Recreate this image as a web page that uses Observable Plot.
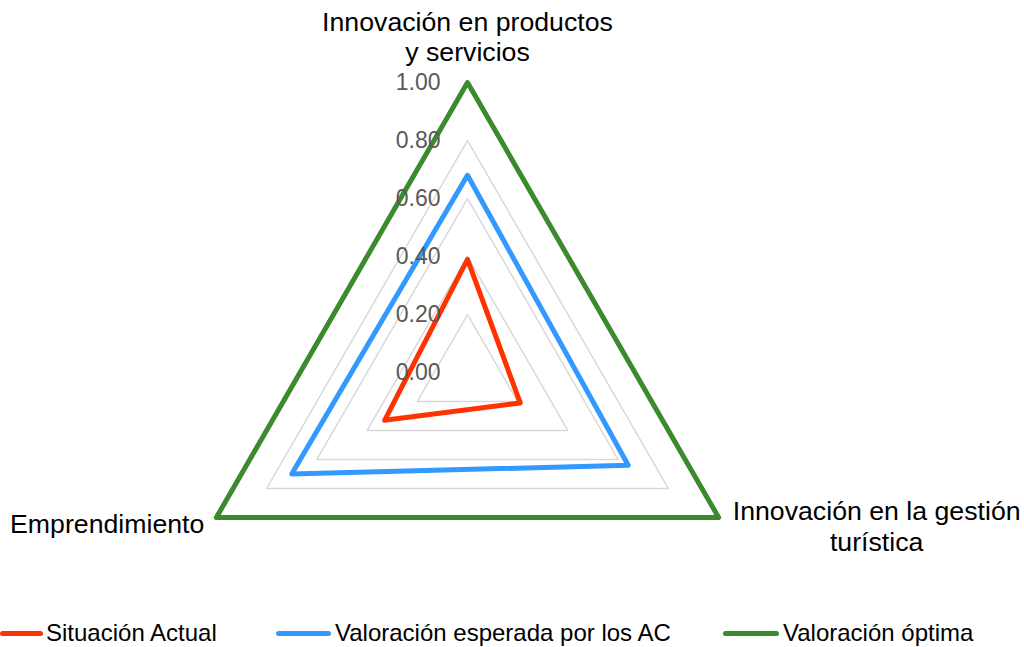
<!DOCTYPE html>
<html>
<head>
<meta charset="utf-8">
<script src="https://cdn.jsdelivr.net/npm/d3@7"></script>
<script src="https://cdn.jsdelivr.net/npm/@observablehq/plot@0.6"></script>
<style>
  html, body { margin: 0; padding: 0; background: #fff; }
  body { width: 1024px; height: 647px; overflow: hidden; font-family: "Liberation Sans", Arial, sans-serif; }
  #legend { position: relative; width: 1024px; height: 32px; }
  .sw { position: absolute; height: 5px; border-radius: 3px; }
  .lt { position: absolute; font-size: 24px; color: #000; line-height: 28px; white-space: nowrap; }
</style>
</head>
<body>
<div id="chart"></div>
<div id="legend"></div>
<script>
// ---- data ----
const axes = ["Innovación en productos\ny servicios", "Innovación en la gestión\nturística", "Emprendimiento"];
const seriesNames = ["Situación Actual", "Valoración esperada por los AC", "Valoración óptima"];
const situacionActual = [0.39, 0.21, 0.33];
const valoracionEsperada = [0.68, 0.64, 0.70];
const valoracionOptima = [1.0, 1.0, 1.0];
const gridLevels = [0.2, 0.4, 0.6, 0.8, 1.0];
const tickValues = [0, 0.2, 0.4, 0.6, 0.8, 1.0];
const tickLabels = ["0.00", "0.20", "0.40", "0.60", "0.80", "1.00"];
const colors = ["#FF3300", "#3399FF", "#3C8A2E"];

// ---- geometry helpers (polar -> data coords) ----
const angles = [90, -30, 210].map(d => d * Math.PI / 180);
const px = d => d.r * Math.cos(angles[d.i]);
const py = d => d.r * Math.sin(angles[d.i]);

const seriesValues = [situacionActual, valoracionEsperada, valoracionOptima];
const seriesRows = seriesValues.flatMap((vals, s) => vals.map((r, i) => ({s, i, r})));
const gridRows = gridLevels.flatMap(l => axes.map((a, i) => ({l, i, r: l})));
const tickRows = tickValues.map((v, k) => ({i: 0, r: v, label: tickLabels[k]}));
const axisRows = axes.map((label, i) => ({i, r: 1, label}));

const chart = Plot.plot({
  width: 1024,
  height: 615,
  style: {fontFamily: '"Liberation Sans", Arial, sans-serif', background: "#fff"},
  x: {domain: [-1, 1], range: [177, 757], axis: null},
  y: {domain: [-1, 1], range: [662, 82], axis: null},
  marks: [
    Plot.line(gridRows, {x: px, y: py, z: "l", curve: "linear-closed", stroke: "#d9d9d9", strokeWidth: 1.5}),
    Plot.line(seriesRows, {x: px, y: py, z: "s", curve: "linear-closed", stroke: d => colors[d.s], strokeWidth: 5, strokeLinejoin: "round"}),
    Plot.text(tickRows, {x: px, y: py, text: "label", textAnchor: "end", dx: -27, fontSize: 23, fill: "#595959"}),
    Plot.text(axisRows.filter(d => d.i === 0), {x: px, y: py, text: "label", textAnchor: "middle", lineAnchor: "middle", dy: -46, fontSize: 26.7, lineHeight: 1.13, fill: "#000"}),
    Plot.text(axisRows.filter(d => d.i === 1), {x: px, y: py, text: "label", textAnchor: "middle", lineAnchor: "middle", dx: 158, dy: 8, fontSize: 26.7, lineHeight: 1.15, fill: "#000"}),
    Plot.text(axisRows.filter(d => d.i === 2), {x: px, y: py, text: "label", textAnchor: "end", lineAnchor: "middle", dx: -12, dy: 7, fontSize: 26.7, fill: "#000"})
  ]
});
document.getElementById("chart").appendChild(chart);

// ---- legend ----
const legend = document.getElementById("legend");
const swX = [0, 276, 723];
const swW = [43, 55, 56];
const txX = [46, 335, 783];
seriesNames.forEach((name, k) => {
  const sw = document.createElement("div");
  sw.className = "sw";
  sw.style.left = swX[k] + "px";
  sw.style.width = swW[k] + "px";
  sw.style.top = "16px";
  sw.style.background = colors[k];
  legend.appendChild(sw);
  const t = document.createElement("div");
  t.className = "lt";
  t.style.left = txX[k] + "px";
  t.style.top = "4px";
  t.textContent = name;
  legend.appendChild(t);
});
</script>
</body>
</html>
